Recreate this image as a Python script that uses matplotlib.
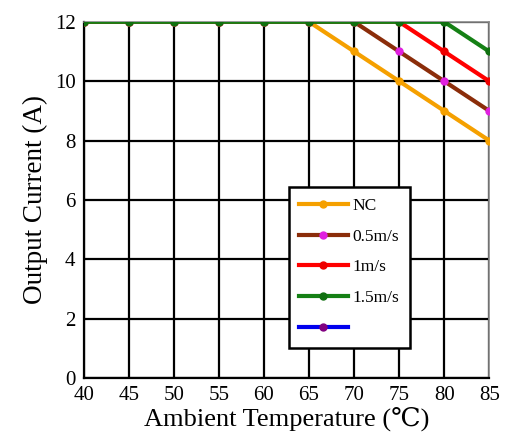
import matplotlib
matplotlib.use("Agg")
import matplotlib.pyplot as plt

plt.rcParams['font.family'] = ['Liberation Serif', 'DejaVu Serif']

temps = [40, 45, 50, 55, 60, 65, 70, 75, 80, 85]
nc = [12, 12, 12, 12, 12, 12, 11, 10, 9, 8]
ms05 = [12, 12, 12, 12, 12, 12, 12, 11, 10, 9]
ms1 = [12, 12, 12, 12, 12, 12, 12, 12, 11, 10]
ms15 = [12, 12, 12, 12, 12, 12, 12, 12, 12, 11]
blue_temps = []
blue = []
labels = ['NC', '0.5m/s', '1m/s', '1.5m/s', ' ']
xticks = [40, 45, 50, 55, 60, 65, 70, 75, 80, 85]
yticks = [0, 2, 4, 6, 8, 10, 12]

fig = plt.figure(figsize=(5.08, 4.36), dpi=100)
ax = fig.add_axes([0.165, 0.133, 0.798, 0.817])

lb, = ax.plot(blue_temps, blue, color='#0000ee', lw=3, marker='o', ms=5, mfc='#800080', mec='#800080', zorder=2)
l0, = ax.plot(temps, nc, color='#f5a000', lw=3, marker='o', ms=5, mfc='#f5a000', mec='#f5a000', zorder=3)
l1, = ax.plot(temps, ms05, color='#8b2d0a', lw=3, marker='o', ms=5, mfc='#e020e0', mec='#e020e0', zorder=4)
l2, = ax.plot(temps, ms1, color='#ff0000', lw=3, marker='o', ms=5, mfc='#ee0000', mec='#ee0000', zorder=5)
l3, = ax.plot(temps, ms15, color='#158015', lw=3, marker='o', ms=5, mfc='#107010', mec='#107010', zorder=6)

ax.set_xlim(40, 85)
ax.set_ylim(0, 12)
ax.set_xticks(xticks)
ax.set_yticks(yticks)
ax.grid(True, color='black', lw=1.6, zorder=0)
ax.set_axisbelow(True)
ax.tick_params(length=0, labelsize=15, pad=6)
for s in ['left', 'bottom']:
    ax.spines[s].set_linewidth(1.6)
for s in ['right', 'top']:
    ax.spines[s].set_color('#888888')
    ax.spines[s].set_linewidth(1.2)

ax.set_xlabel('Ambient Temperature (\u2103)', fontsize=19, labelpad=1)
ax.set_ylabel('Output Current (A)', fontsize=19.5, labelpad=5)

leg = ax.legend([l0, l1, l2, l3, lb], labels,
                loc='lower left', bbox_to_anchor=(0.505, 0.085), fontsize=12.5,
                frameon=True, fancybox=False, edgecolor='black',
                handlelength=2.8, labelspacing=0.85, borderpad=0.6, handletextpad=0.3,
                borderaxespad=0)
leg.get_frame().set_linewidth(1.8)
leg.get_frame().set_alpha(1)

fig.savefig('out.png', dpi=100)
